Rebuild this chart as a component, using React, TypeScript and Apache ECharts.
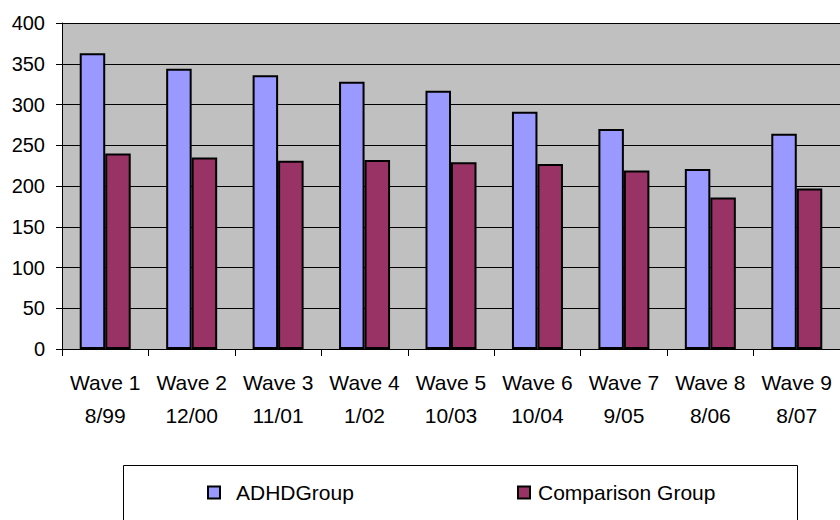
import React, { useEffect, useRef } from "react";
import * as echarts from "echarts";

const categories = [
  "Wave 1\n8/99",
  "Wave 2\n12/00",
  "Wave 3\n11/01",
  "Wave 4\n1/02",
  "Wave 5\n10/03",
  "Wave 6\n10/04",
  "Wave 7\n9/05",
  "Wave 8\n8/06",
  "Wave 9\n8/07",
];
const adhdValues = [363, 344, 336, 328, 317, 291, 270, 221, 264];
const comparisonValues = [240, 235, 231, 232, 229, 227, 219, 186, 197];
const seriesNames = ["ADHDGroup", "Comparison Group"];

const FONT = "'Liberation Sans', Arial, sans-serif";

export default function App() {
  const ref = useRef<HTMLDivElement>(null);
  useEffect(() => {
    if (!ref.current) return;
    const chart = echarts.init(ref.current, null, { renderer: "svg" });
    chart.setOption({
      animation: false,
      backgroundColor: "#ffffff",
      textStyle: { fontFamily: FONT, color: "#000" },
      grid: {
        left: 62,
        right: 0,
        top: 23,
        bottom: 171,
        show: true,
        backgroundColor: "#C0C0C0",
        borderWidth: 0,
        containLabel: false,
      },
      graphic: [
        {
          type: "rect",
          shape: { x: 123.5, y: 465.5, width: 674, height: 80 },
          style: { fill: "#ffffff", stroke: "#000", lineWidth: 1 },
          z: 0,
        },
      ],
      legend: [
        {
          data: [seriesNames[0]],
          left: 202,
          top: 477,
          itemWidth: 12,
          itemHeight: 12,
          icon: "rect",
          textStyle: { fontFamily: FONT, fontSize: 21, color: "#000", padding: [0, 0, 0, 11] },
          z: 5,
        },
        {
          data: [seriesNames[1]],
          left: 512,
          top: 477,
          itemWidth: 12,
          itemHeight: 12,
          icon: "rect",
          textStyle: { fontFamily: FONT, fontSize: 21, color: "#000", padding: [0, 0, 0, 3] },
          z: 5,
        },
      ],
      xAxis: {
        type: "category",
        data: categories,
        boundaryGap: true,
        axisLine: { show: true, lineStyle: { color: "#000", width: 1 } },
        axisTick: { show: true, alignWithLabel: false, length: 7, lineStyle: { color: "#000" } },
        axisLabel: {
          fontFamily: FONT,
          fontSize: 21,
          color: "#000",
          lineHeight: 33,
          margin: 17,
          interval: 0,
        },
        splitLine: { show: false },
      },
      yAxis: {
        type: "value",
        min: 0,
        max: 400,
        interval: 50,
        axisLine: { show: true, lineStyle: { color: "#000", width: 1 } },
        axisTick: { show: true, length: 6, lineStyle: { color: "#000" } },
        axisLabel: { fontFamily: FONT, fontSize: 20, color: "#000", margin: 17 },
        splitLine: { show: true, lineStyle: { color: "#000", width: 1 } },
      },
      series: [
        {
          name: seriesNames[0],
          type: "bar",
          data: adhdValues,
          barWidth: 25.5,
          barGap: "0%",
          itemStyle: { color: "#9999FF", borderColor: "#000", borderWidth: 2 },
        },
        {
          name: seriesNames[1],
          type: "bar",
          data: comparisonValues,
          barWidth: 25.5,
          barGap: "0%",
          itemStyle: { color: "#993366", borderColor: "#000", borderWidth: 2 },
        },
      ],
    });
    return () => chart.dispose();
  }, []);
  return (
    <div
      ref={ref}
      style={{ position: "fixed", left: 0, top: 0, width: 840, height: 520 }}
    />
  );
}
